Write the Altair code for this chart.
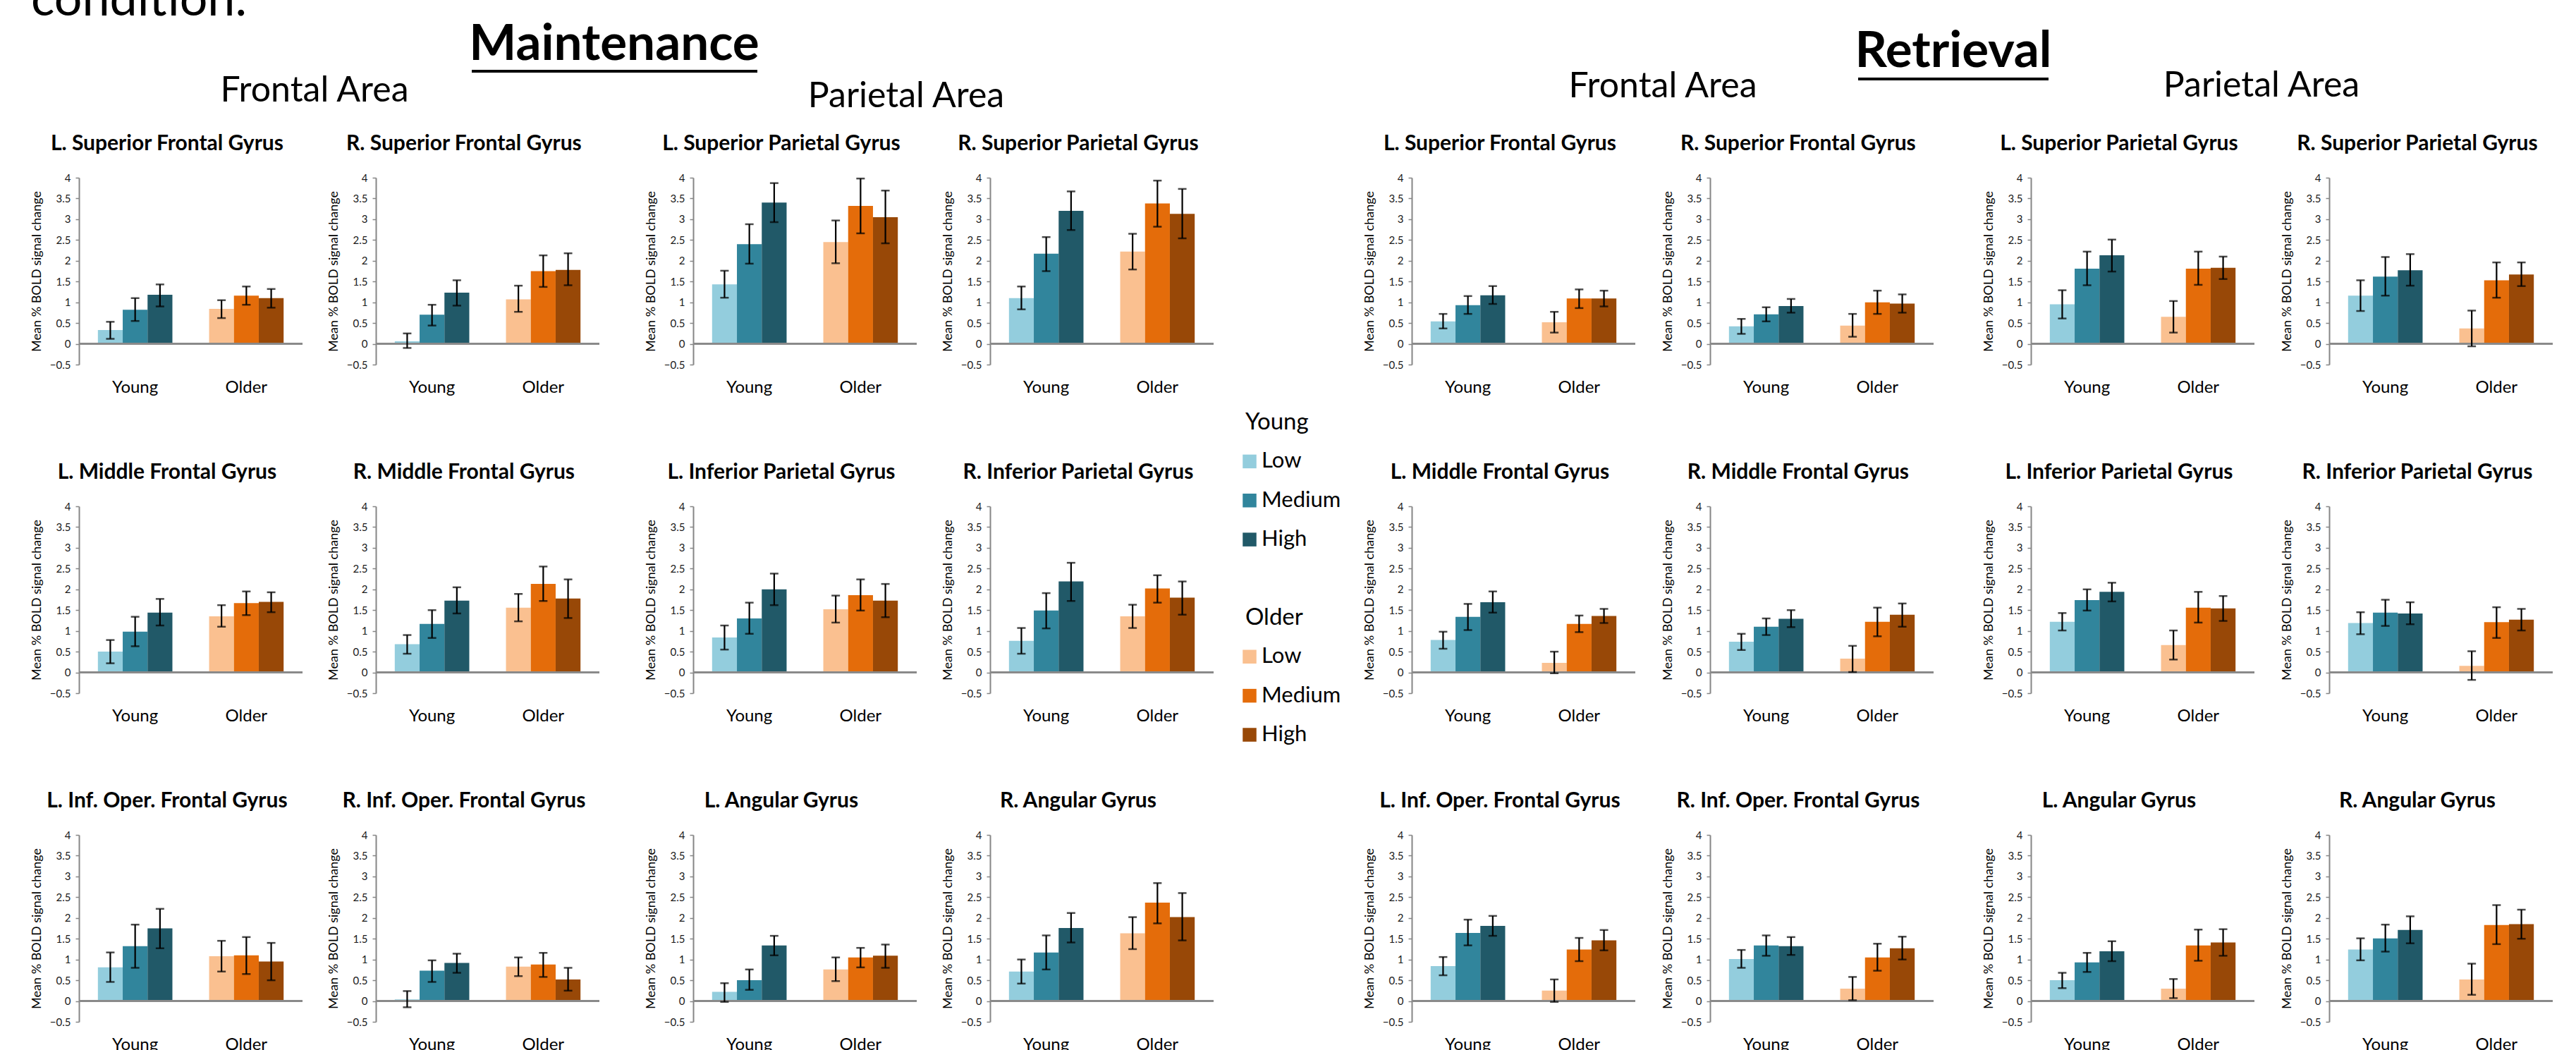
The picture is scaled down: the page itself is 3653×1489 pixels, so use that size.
import altair as alt
import pandas as pd

FONT = "Lato"

REGIONS = [
    "L. Superior Frontal Gyrus", "R. Superior Frontal Gyrus",
    "L. Superior Parietal Gyrus", "R. Superior Parietal Gyrus",
    "L. Middle Frontal Gyrus", "R. Middle Frontal Gyrus",
    "L. Inferior Parietal Gyrus", "R. Inferior Parietal Gyrus",
    "L. Inf. Oper. Frontal Gyrus", "R. Inf. Oper. Frontal Gyrus",
    "L. Angular Gyrus", "R. Angular Gyrus",
]
GROUPS = ["Young", "Older"]
LEVELS = ["Low", "Medium", "High"]
KEYS = [f"{g} {l}" for g in GROUPS for l in LEVELS]
Y_TICKS = [-0.5, 0.0, 0.5, 1.0, 1.5, 2.0, 2.5, 3.0, 3.5, 4.0]
Y_TITLE = "Mean % BOLD signal change"

# each row: Young Low, Young Medium, Young High, Older Low, Older Medium, Older High
MAINT_MEAN = [
    [0.33, 0.82, 1.18, 0.84, 1.16, 1.10],
    [0.06, 0.70, 1.23, 1.07, 1.75, 1.78],
    [1.43, 2.40, 3.40, 2.45, 3.32, 3.05],
    [1.10, 2.17, 3.20, 2.22, 3.38, 3.13],
    [0.50, 0.98, 1.44, 1.35, 1.67, 1.70],
    [0.68, 1.17, 1.73, 1.56, 2.13, 1.78],
    [0.84, 1.30, 2.00, 1.52, 1.86, 1.73],
    [0.76, 1.49, 2.19, 1.35, 2.02, 1.80],
    [0.81, 1.32, 1.75, 1.08, 1.10, 0.95],
    [0.04, 0.73, 0.92, 0.83, 0.88, 0.52],
    [0.22, 0.50, 1.34, 0.76, 1.05, 1.09],
    [0.71, 1.17, 1.76, 1.63, 2.37, 2.02],
]
MAINT_LO = [
    [0.12, 0.55, 0.90, 0.62, 0.94, 0.87],
    [-0.10, 0.44, 0.92, 0.77, 1.37, 1.41],
    [1.11, 1.93, 2.93, 1.94, 2.66, 2.42],
    [0.83, 1.75, 2.74, 1.79, 2.82, 2.54],
    [0.22, 0.63, 1.13, 1.10, 1.38, 1.45],
    [0.45, 0.83, 1.42, 1.23, 1.72, 1.31],
    [0.55, 0.93, 1.62, 1.20, 1.49, 1.33],
    [0.45, 1.06, 1.72, 1.07, 1.68, 1.39],
    [0.46, 0.80, 1.27, 0.71, 0.65, 0.50],
    [-0.15, 0.46, 0.68, 0.60, 0.58, 0.25],
    [-0.02, 0.27, 1.10, 0.48, 0.81, 0.80],
    [0.42, 0.76, 1.41, 1.25, 1.87, 1.46],
]
MAINT_HI = [
    [0.53, 1.10, 1.43, 1.05, 1.38, 1.32],
    [0.25, 0.94, 1.53, 1.40, 2.13, 2.18],
    [1.76, 2.88, 3.87, 2.97, 3.98, 3.69],
    [1.38, 2.57, 3.67, 2.65, 3.93, 3.73],
    [0.78, 1.34, 1.77, 1.62, 1.95, 1.93],
    [0.90, 1.50, 2.05, 1.89, 2.55, 2.24],
    [1.13, 1.68, 2.38, 1.85, 2.24, 2.13],
    [1.07, 1.91, 2.64, 1.63, 2.34, 2.19],
    [1.17, 1.84, 2.22, 1.45, 1.54, 1.40],
    [0.24, 0.98, 1.14, 1.05, 1.16, 0.80],
    [0.43, 0.76, 1.57, 1.05, 1.28, 1.36],
    [1.00, 1.58, 2.12, 2.02, 2.84, 2.60],
]

RETR_MEAN = [
    [0.54, 0.93, 1.17, 0.52, 1.09, 1.09],
    [0.42, 0.71, 0.91, 0.44, 1.00, 0.97],
    [0.95, 1.81, 2.13, 0.65, 1.81, 1.83],
    [1.16, 1.62, 1.77, 0.37, 1.53, 1.67],
    [0.78, 1.34, 1.69, 0.23, 1.17, 1.36],
    [0.74, 1.10, 1.29, 0.33, 1.22, 1.39],
    [1.22, 1.74, 1.94, 0.66, 1.56, 1.54],
    [1.19, 1.44, 1.42, 0.16, 1.21, 1.27],
    [0.84, 1.64, 1.81, 0.25, 1.24, 1.46],
    [1.01, 1.34, 1.32, 0.30, 1.05, 1.27],
    [0.50, 0.93, 1.20, 0.30, 1.34, 1.41],
    [1.24, 1.51, 1.71, 0.52, 1.83, 1.85],
]
RETR_LO = [
    [0.37, 0.72, 0.96, 0.27, 0.86, 0.90],
    [0.24, 0.54, 0.75, 0.17, 0.72, 0.75],
    [0.61, 1.41, 1.74, 0.27, 1.42, 1.56],
    [0.79, 1.16, 1.40, -0.06, 1.11, 1.39],
    [0.57, 1.02, 1.44, -0.02, 0.97, 1.19],
    [0.54, 0.90, 1.09, 0.01, 0.87, 1.10],
    [1.01, 1.49, 1.71, 0.31, 1.20, 1.24],
    [0.92, 1.12, 1.16, -0.18, 0.83, 1.01],
    [0.62, 1.34, 1.57, -0.02, 0.96, 1.22],
    [0.80, 1.09, 1.11, 0.02, 0.73, 1.00],
    [0.31, 0.70, 0.96, 0.07, 0.97, 1.09],
    [0.98, 1.19, 1.39, 0.15, 1.37, 1.50],
]
RETR_HI = [
    [0.72, 1.15, 1.39, 0.77, 1.31, 1.28],
    [0.60, 0.88, 1.08, 0.72, 1.28, 1.19],
    [1.29, 2.22, 2.51, 1.03, 2.22, 2.10],
    [1.53, 2.09, 2.16, 0.80, 1.96, 1.96],
    [0.98, 1.65, 1.95, 0.50, 1.37, 1.53],
    [0.93, 1.30, 1.50, 0.64, 1.56, 1.66],
    [1.43, 2.00, 2.16, 1.01, 1.94, 1.84],
    [1.45, 1.75, 1.69, 0.51, 1.57, 1.53],
    [1.06, 1.96, 2.05, 0.52, 1.52, 1.71],
    [1.23, 1.58, 1.54, 0.58, 1.38, 1.55],
    [0.68, 1.16, 1.44, 0.53, 1.72, 1.73],
    [1.51, 1.84, 2.04, 0.90, 2.31, 2.20],
]

BAR_COLORS = ["#93CDDD", "#31859C", "#215968", "#FAC090", "#E46C0A", "#984807"]
LEGEND_COLORS = ["#3A89A0", "#4BACC6", "#215968", "#FAC090", "#E46C0A", "#984807"]

# layout sizes
PLOT_W, PLOT_H = 317, 265
LEFT_SPACE = 40
MAINT_GAPS = (33, 62)   # between panels of a pair, between frontal and parietal pairs
RETR_GAPS = (35, 67)
ROW_GAP = 94
HEADER_H = 189
LEGEND_W = 210


def panel_frame(means, los, his):
    rows = []
    i = 0
    for g in GROUPS:
        for l in LEVELS:
            rows.append({"group": g, "level": l, "key": f"{g} {l}",
                         "mean": means[i], "lo": los[i], "hi": his[i]})
            i += 1
    return pd.DataFrame(rows)


Y_AXIS = alt.Axis(values=Y_TICKS, format="~g", grid=False, labelOverlap=False,
                  domainColor="#868686", domainWidth=2,
                  tickColor="#868686", tickSize=5, tickWidth=1.5,
                  labelFontSize=15, labelPadding=7, labelColor="#1a1a1a",
                  labelFont=FONT, titleFont=FONT, titleFontSize=18,
                  titleFontWeight="normal", titleColor="black", titlePadding=9)
Y_SCALE = alt.Scale(domain=[-0.5, 4], nice=False, zero=False)


def yenc(field):
    return alt.Y(field, scale=Y_SCALE, axis=Y_AXIS, title=Y_TITLE)


def panel(name, means, los, his):
    df = panel_frame(means, los, his)
    x = alt.X("group:N", sort=GROUPS,
              scale=alt.Scale(paddingInner=0.33, paddingOuter=0.17),
              axis=alt.Axis(title=None, domain=False, ticks=False, labelAngle=0,
                            labelFontSize=24, labelPadding=20, labelColor="black",
                            labelFont=FONT))
    xo = alt.XOffset("level:N", sort=LEVELS,
                     scale=alt.Scale(paddingInner=0, paddingOuter=0))
    base = alt.Chart(df).encode(x=x, xOffset=xo)
    bars = base.mark_bar().encode(
        y=yenc("mean:Q"),
        color=alt.Color("key:N", scale=alt.Scale(domain=KEYS, range=BAR_COLORS),
                        legend=None),
    )
    zero = alt.Chart(pd.DataFrame({"z": [0.0]})).mark_rule(
        color="#8a8a8a", strokeWidth=3
    ).encode(y=yenc("z:Q"))
    whisk = base.mark_rule(color="black", strokeWidth=2.2).encode(
        y=yenc("lo:Q"), y2="hi:Q")
    cap_hi = base.mark_tick(color="black", thickness=2.5, size=12).encode(y=yenc("hi:Q"))
    cap_lo = base.mark_tick(color="black", thickness=2.5, size=12).encode(y=yenc("lo:Q"))
    return alt.layer(bars, zero, whisk, cap_hi, cap_lo).properties(
        width=PLOT_W, height=PLOT_H,
        title=alt.TitleParams(text=name, fontSize=30, fontWeight="bold", font=FONT,
                              anchor="middle", frame="bounds", offset=26,
                              color="black"),
    )


def grid(means, los, his, gaps):
    pair_gap, area_gap = gaps
    rows = []
    for r in range(3):
        p = [panel(REGIONS[4 * r + c], means[4 * r + c], los[4 * r + c], his[4 * r + c])
             for c in range(4)]
        rows.append(alt.hconcat(
            alt.hconcat(p[0], p[1], spacing=pair_gap),
            alt.hconcat(p[2], p[3], spacing=pair_gap),
            spacing=area_gap,
        ))
    return alt.vconcat(*rows, spacing=ROW_GAP)


def header_text(label, x, y, size, weight="normal", clip=False, align="center"):
    return alt.Chart(pd.DataFrame({"t": [label]})).mark_text(
        font=FONT, fontSize=size, fontWeight=weight, align=align,
        baseline="alphabetic", color="black", clip=clip,
    ).encode(text="t:N", x=alt.value(x), y=alt.value(y))


def underline(x1, x2, y):
    return alt.Chart(pd.DataFrame({"u": [0]})).mark_rule(
        color="black", strokeWidth=4
    ).encode(x=alt.value(x1), x2=alt.value(x2), y=alt.value(y))


header = alt.layer(
    header_text("condition.", 41, 22, 70, clip=True, align="left"),
    header_text("Maintenance", 868, 85, 71, weight="bold"),
    underline(666, 1071, 101),
    header_text("Frontal Area", 443, 144, 50),
    header_text("Parietal Area", 1282, 152, 50),
    header_text("Retrieval", 2767, 95, 71, weight="bold"),
    underline(2632, 2902, 112),
    header_text("Frontal Area", 2355, 138, 50),
    header_text("Parietal Area", 3204, 137, 50),
).properties(width=3400, height=HEADER_H)

# empty strip that keeps the first column of panels off the left edge
spacer = alt.Chart(pd.DataFrame({"s": [0]})).mark_point(opacity=0).encode(
    x=alt.value(0), y=alt.value(0)
).properties(width=LEFT_SPACE, height=10)

# legend column between the two blocks
LEGEND_SLOTS = ["Young", "Young Low", "Young Medium", "Young High", "spacer",
                "Older", "Older Low", "Older Medium", "Older High"]
legend_y = alt.Y("slot:N", scale=alt.Scale(domain=LEGEND_SLOTS, range=[347, 790], padding=0),
                 axis=None)
hdr_df = pd.DataFrame({"slot": GROUPS, "label": GROUPS})
item_df = pd.DataFrame({"slot": KEYS, "label": [k.split(" ")[1] for k in KEYS]})
legend = alt.layer(
    alt.Chart(hdr_df).mark_text(font=FONT, fontSize=33, align="left", baseline="middle",
                                color="black").encode(
        y=legend_y, x=alt.value(43), text="label:N"),
    alt.Chart(item_df).mark_square(size=380, opacity=1).encode(
        y=legend_y, x=alt.value(49),
        color=alt.Color("slot:N", scale=alt.Scale(domain=KEYS, range=LEGEND_COLORS),
                        legend=None)),
    alt.Chart(item_df).mark_text(font=FONT, fontSize=31, align="left", baseline="middle",
                                 color="black").encode(
        y=legend_y, x=alt.value(66), text="label:N"),
).properties(width=LEGEND_W, height=850)

body = alt.hconcat(
    spacer,
    grid(MAINT_MEAN, MAINT_LO, MAINT_HI, MAINT_GAPS),
    legend,
    grid(RETR_MEAN, RETR_LO, RETR_HI, RETR_GAPS),
    spacing=0,
)

chart = alt.vconcat(header, body, spacing=0).properties(
    padding={"left": 0, "top": 0, "right": 0, "bottom": 0},
    background="white",
).configure_view(stroke=None).configure_axis(labelOverlap=False)

chart.save("out.html", embed_options={"renderer": "svg", "actions": False})
